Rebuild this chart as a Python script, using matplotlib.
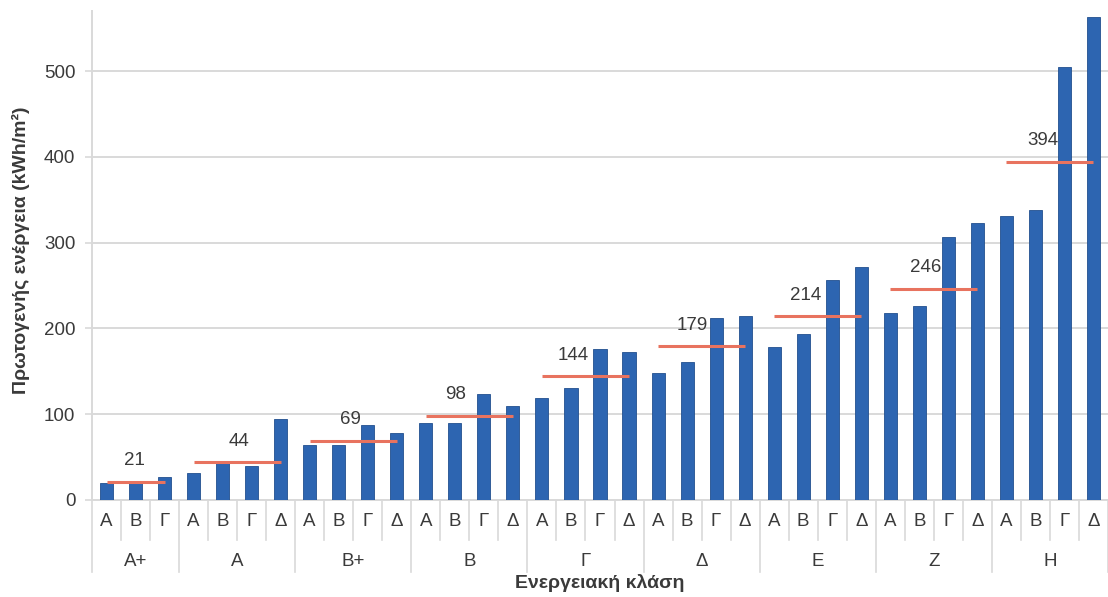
import matplotlib
matplotlib.use("Agg")
import matplotlib.pyplot as plt
import numpy as np

plt.rcParams['font.family'] = ['Liberation Sans', 'DejaVu Sans']

# Energy classes and the sub-categories inside each class
classes = ['Α+', 'Α', 'Β+', 'Β', 'Γ', 'Δ', 'Ε', 'Ζ', 'Η']
subcats = [
    ['Α', 'Β', 'Γ'],
    ['Α', 'Β', 'Γ', 'Δ'],
    ['Α', 'Β', 'Γ', 'Δ'],
    ['Α', 'Β', 'Γ', 'Δ'],
    ['Α', 'Β', 'Γ', 'Δ'],
    ['Α', 'Β', 'Γ', 'Δ'],
    ['Α', 'Β', 'Γ', 'Δ'],
    ['Α', 'Β', 'Γ', 'Δ'],
    ['Α', 'Β', 'Γ', 'Δ'],
]

# Primary energy per sub-category (kWh/m2)
energy = [
    [20, 20, 27],
    [31, 44, 40, 94],
    [64, 64, 87, 78],
    [90, 90, 124, 109],
    [119, 130, 176, 173],
    [148, 161, 212, 215],
    [178, 194, 256, 272],
    [218, 226, 307, 323],
    [331, 338, 505, 563],
]

# Average value of each class
class_mean = [21, 44, 69, 98, 144, 179, 214, 246, 394]

# Horizontal nudge (points) of each average label so it clears the bars
mean_label_dx = [-1, 1, -2, -10, -9, -7, -9, -6, -5]

bar_color = '#2d65b1'
mean_color = '#e8735f'
text_color = '#3a3a3a'
grid_color = '#d9d9d9'
fs = 13.5

W, H = 1108, 597
fig = plt.figure(figsize=(W / 100, H / 100), dpi=100)
ax_left, ax_bottom, ax_top = 92, 500, 11
ax = fig.add_axes([ax_left / W, 1 - ax_bottom / H, 1 - ax_left / W, (ax_bottom - ax_top) / H])
ax_h_px = ax_bottom - ax_top
ax_w_px = W - ax_left

labels = []
values = []
group_bounds = [0]
for subs, vals in zip(subcats, energy):
    labels.extend(subs)
    values.extend(vals)
    group_bounds.append(group_bounds[-1] + len(subs))

x = np.arange(len(values))
ax.bar(x, values, width=0.45, color=bar_color, edgecolor='#22508f', linewidth=0.6, zorder=3)

# Class averages: red line over the class bars with its value above
for g, m in enumerate(class_mean):
    start, end = group_bounds[g], group_bounds[g + 1] - 1
    ax.plot([start, end], [m, m], color=mean_color, lw=2.2, zorder=4, solid_capstyle='butt')
    ax.annotate(f'{m}', xy=((start + end) / 2, m), xytext=(mean_label_dx[g], 9),
                textcoords='offset points', ha='center', va='bottom', fontsize=fs,
                color=text_color, zorder=5)

ax.set_xlim(-0.5, len(values) - 0.5)
ax.set_ylim(0, 570)
ax.set_yticks([0, 100, 200, 300, 400, 500])
ax.yaxis.grid(True, color=grid_color, lw=1.4, zorder=0)
ax.tick_params(axis='y', labelsize=fs, labelcolor=text_color, color=grid_color, length=5, width=1.2, pad=7)

ax.set_xticks(x)
ax.set_xticklabels(labels, fontsize=fs, color=text_color)
ax.tick_params(axis='x', length=0, pad=9)

for side in ['top', 'right']:
    ax.spines[side].set_visible(False)
for side in ['left', 'bottom']:
    ax.spines[side].set_color(grid_color)
    ax.spines[side].set_linewidth(1.4)

# Multi-level category axis: short separators between bars, long ones between classes
trans = ax.get_xaxis_transform()
short_sep = -40 / ax_h_px
long_sep = -72 / ax_h_px
for b in range(len(values) + 1):
    pos = b - 0.5
    depth = long_sep if b in group_bounds else short_sep
    ax.plot([pos, pos], [0, depth], transform=trans, color=grid_color, lw=1.2, clip_on=False)

for g, name in enumerate(classes):
    center = (group_bounds[g] + group_bounds[g + 1] - 1) / 2
    ax.text(center, -61 / ax_h_px, name, transform=trans, ha='center', va='center',
            fontsize=fs, color=text_color)

ax.text((len(values) - 1) / 2, -83 / ax_h_px, 'Ενεργειακή κλάση', transform=trans,
        ha='center', va='center', fontsize=14, fontweight='bold', color=text_color)
ax.set_ylabel('Πρωτογενής ενέργεια (kWh/m²)', fontsize=14, fontweight='bold', color=text_color)
ax.yaxis.set_label_coords(-62 / ax_w_px, 0.51)

fig.savefig('out.png', dpi=100)
